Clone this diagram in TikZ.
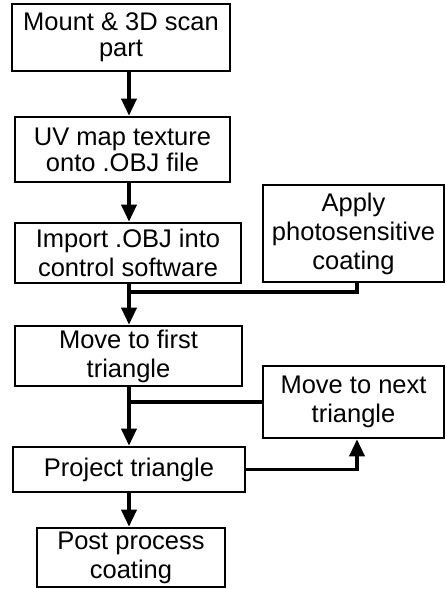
\documentclass[tikz,border=0pt]{standalone}
\usepackage{fontspec}
\setmainfont{Liberation Sans}
\usetikzlibrary{arrows.meta}
\begin{document}
\begin{tikzpicture}[x=1pt,y=-1pt,
  box/.style={draw=black,line width=2.6pt,inner sep=0pt,align=center,
    font=\fontsize{25.5}{26}\selectfont},
  wide/.style={font=\fontsize{25.5}{29}\selectfont},
  conn/.style={line width=3.6pt,draw=black},
  arr/.style={conn,-{Triangle[length=17pt,width=15pt]}}]
\useasboundingbox (0,0) rectangle (445,589);
\fill[white] (0,0) rectangle (445,589);
\coordinate (spine) at (129,0);
\coordinate (rx) at (357,0);
\node[box,minimum width=218pt,minimum height=67pt] (b1) at (121,37.5) {Mount \& 3D scan\\part};
\node[box,minimum width=215pt,minimum height=65pt] (b2) at (122.5,149.5) {UV map texture\\onto .OBJ file};
\node[box,wide,minimum width=226pt,minimum height=60pt] (b3) at (128,253) {Import .OBJ into\\control software};
\node[box,wide,minimum width=181pt,minimum height=97pt] (apply) at (353.5,233.5) {Apply\\photosensitive\\coating};
\node[box,wide,minimum width=227pt,minimum height=60pt] (b4) at (128.5,356) {Move to first\\triangle};
\node[box,wide,minimum width=181pt,minimum height=72pt] (next) at (353.5,402) {Move to next\\triangle};
\node[box,minimum width=232pt,minimum height=45pt] (b5) at (129,469.5) {Project triangle};
\node[box,wide,minimum width=188pt,minimum height=59pt] (b6) at (131,557.5) {Post process\\coating};
\coordinate (j1) at (129,292);
\draw[arr] (b1.south -| spine) -- (b2.north -| spine);
\draw[arr] (b2.south -| spine) -- (b3.north -| spine);
\draw[arr] (b3.south -| spine) -- (b4.north -| spine);
\draw[conn] (apply.south -| rx) |- (j1);
\draw[arr] (b4.south -| spine) -- (b5.north -| spine);
\draw[conn] (next.west) -- (next.west -| spine);
\draw[arr] (b5.east) -| (next.south -| rx);
\draw[arr] (b5.south -| spine) -- (b6.north -| spine);
\end{tikzpicture}
\end{document}
